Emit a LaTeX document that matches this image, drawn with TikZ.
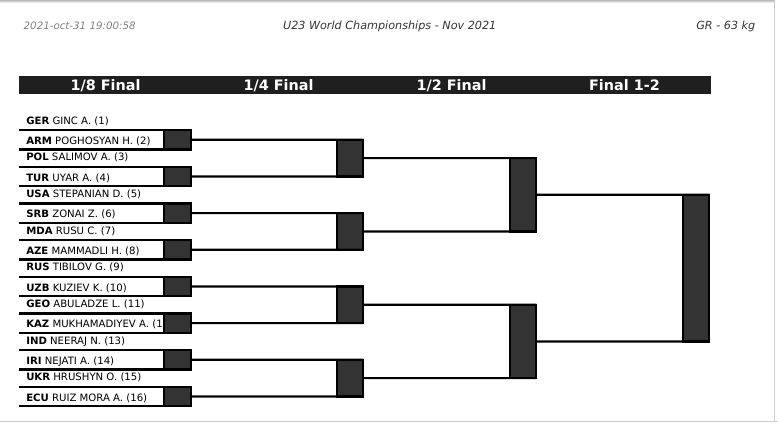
\documentclass[tikz,border=0pt]{standalone}
\usepackage{fontspec}
\setmainfont{DejaVu Sans}
\usepackage{xcolor}
\usepackage{tikz}
\definecolor{barblack}{HTML}{1F1F1F}
\definecolor{boxgray}{HTML}{333333}
\definecolor{stampgray}{HTML}{808080}
\definecolor{titlegray}{HTML}{333333}
\definecolor{framegray}{HTML}{CCCCCC}

\begin{document}
\begin{tikzpicture}[x=0.75pt, y=-0.75pt,
    wrestler/.style={anchor=base west, inner sep=0pt, font=\fontsize{7.6}{9}\selectfont},
    slot/.style={minimum width=129.75pt, minimum height=14.5pt, inner sep=0pt, outer sep=0pt},
    score/.style={draw, fill=boxgray, line width=1.6pt, minimum width=20pt, minimum height=14.5pt, inner sep=0pt, outer sep=0pt},
    winbox/.style={draw, fill=boxgray, line width=1.6pt, minimum width=20pt, inner sep=0pt, outer sep=0pt},
    rule/.style={line width=1.6pt},
    colhead/.style={anchor=base, text=white, font=\bfseries\fontsize{10.8}{13}\selectfont},
    info/.style={anchor=base, text=titlegray, font=\itshape\fontsize{8.4}{10}\selectfont}
]
\useasboundingbox (0,0) rectangle (778,432);

% page frame
\fill[top color=gray!55, bottom color=white] (0,0) rectangle (775,3);
\draw[framegray, line width=0.75pt] (0,421.7) -- (778,421.7);
\draw[framegray, line width=0.75pt] (774,0) -- (774,421.7);

% header
\node[info, anchor=base west, text=stampgray, font=\itshape\fontsize{7.7}{9}\selectfont] (stamp) at (19,29.3) {2021-oct-31 19:00:58};
\node[info] (event) at (389.7,29.3) {U23 World Championships - Nov 2021};
\node[info, anchor=base east] (weight) at (760,29.3) {GR - 63 kg};

\node[fill=barblack, minimum width=519pt, minimum height=13.3pt, inner sep=0pt] (bar) at (365,84.85) {};
\node[colhead] (r16) at (105.5,90) {1/8 Final};
\node[colhead] (qf) at (278.5,90) {1/4 Final};
\node[colhead] (sf) at (451.5,90) {1/2 Final};
\node[colhead] (fin) at (624.5,90) {Final 1-2};

% 1/8 final
\node[wrestler] (ger) at (26,124.3) {\textbf{GER} GINC A. (1)};
\node[wrestler] (arm) at (26,144.6) {\textbf{ARM} POGHOSYAN H. (2)};
\node[wrestler] (pol) at (26,160.97) {\textbf{POL} SALIMOV A. (3)};
\node[wrestler] (tur) at (26,181.27) {\textbf{TUR} UYAR A. (4)};
\node[wrestler] (usa) at (26,197.63) {\textbf{USA} STEPANIAN D. (5)};
\node[wrestler] (srb) at (26,217.93) {\textbf{SRB} ZONAI Z. (6)};
\node[wrestler] (mda) at (26,234.3) {\textbf{MDA} RUSU C. (7)};
\node[wrestler] (aze) at (26,254.6) {\textbf{AZE} MAMMADLI H. (8)};
\node[wrestler] (rus) at (26,270.97) {\textbf{RUS} TIBILOV G. (9)};
\node[wrestler] (uzb) at (26,291.27) {\textbf{UZB} KUZIEV K. (10)};
\node[wrestler] (geo) at (26,307.63) {\textbf{GEO} ABULADZE L. (11)};
\node[wrestler] (kaz) at (26,327.93) {\textbf{KAZ} MUKHAMADIYEV A. (12)};
\node[wrestler] (ind) at (26,344.3) {\textbf{IND} NEERAJ N. (13)};
\node[wrestler] (iri) at (26,364.6) {\textbf{IRI} NEJATI A. (14)};
\node[wrestler] (ukr) at (26,380.97) {\textbf{UKR} HRUSHYN O. (15)};
\node[wrestler] (ecu) at (26,401.27) {\textbf{ECU} RUIZ MORA A. (16)};

\node[slot] (armrow) at (105.5,139.8) {};
\node[slot] (turrow) at (105.5,176.47) {};
\node[slot] (srbrow) at (105.5,213.13) {};
\node[slot] (azerow) at (105.5,249.8) {};
\node[slot] (uzbrow) at (105.5,286.47) {};
\node[slot] (kazrow) at (105.5,323.13) {};
\node[slot] (irirow) at (105.5,359.8) {};
\node[slot] (ecurow) at (105.5,396.47) {};

\draw[rule] (armrow.north west) -- (armrow.north east) (armrow.south west) -- (armrow.south east);
\draw[rule] (turrow.north west) -- (turrow.north east) (turrow.south west) -- (turrow.south east);
\draw[rule] (srbrow.north west) -- (srbrow.north east) (srbrow.south west) -- (srbrow.south east);
\draw[rule] (azerow.north west) -- (azerow.north east) (azerow.south west) -- (azerow.south east);
\draw[rule] (uzbrow.north west) -- (uzbrow.north east) (uzbrow.south west) -- (uzbrow.south east);
\draw[rule] (kazrow.north west) -- (kazrow.north east) (kazrow.south west) -- (kazrow.south east);
\draw[rule] (irirow.north west) -- (irirow.north east) (irirow.south west) -- (irirow.south east);
\draw[rule] (ecurow.north west) -- (ecurow.north east) (ecurow.south west) -- (ecurow.south east);

\node[score] (armsc) at (177.5,139.8) {};
\node[score] (tursc) at (177.5,176.47) {};
\node[score] (srbsc) at (177.5,213.13) {};
\node[score] (azesc) at (177.5,249.8) {};
\node[score] (uzbsc) at (177.5,286.47) {};
\node[score] (kazsc) at (177.5,323.13) {};
\node[score] (irisc) at (177.5,359.8) {};
\node[score] (ecusc) at (177.5,396.47) {};

% later rounds
\node[winbox, minimum height=27.5pt] (qf1) at (350,158.13) {};
\node[winbox, minimum height=27.5pt] (qf2) at (350,231.47) {};
\node[winbox, minimum height=27.5pt] (qf3) at (350,304.8) {};
\node[winbox, minimum height=27.5pt] (qf4) at (350,378.13) {};
\node[winbox, minimum height=55pt] (sf1) at (523,194.8) {};
\node[winbox, minimum height=55pt] (sf2) at (523,341.47) {};
\node[winbox, minimum height=110pt] (final) at (696,268.13) {};

\draw[rule] (armsc.east) -- (qf1.north east);
\draw[rule] (tursc.east) -- (qf1.south east);
\draw[rule] (srbsc.east) -- (qf2.north east);
\draw[rule] (azesc.east) -- (qf2.south east);
\draw[rule] (uzbsc.east) -- (qf3.north east);
\draw[rule] (kazsc.east) -- (qf3.south east);
\draw[rule] (irisc.east) -- (qf4.north east);
\draw[rule] (ecusc.east) -- (qf4.south east);
\draw[rule] (qf1.east) -- (sf1.north east);
\draw[rule] (qf2.east) -- (sf1.south east);
\draw[rule] (qf3.east) -- (sf2.north east);
\draw[rule] (qf4.east) -- (sf2.south east);
\draw[rule] (sf1.east) -- (final.north east);
\draw[rule] (sf2.east) -- (final.south east);
\end{tikzpicture}
\end{document}
